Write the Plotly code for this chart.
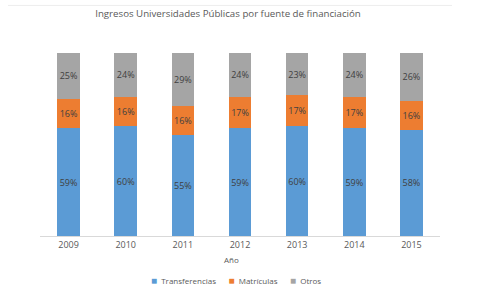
import plotly.graph_objects as go

years = ["2009", "2010", "2011", "2012", "2013", "2014", "2015"]
transferencias = [59, 60, 55, 59, 60, 59, 58]
matriculas = [16, 16, 16, 17, 17, 17, 16]
otros = [25, 24, 29, 24, 23, 24, 26]

series = [
    ("Transferencias", transferencias, "#5B9BD5"),
    ("Matrículas", matriculas, "#ED7D31"),
    ("Otros", otros, "#A5A5A5"),
]

FONT = "Open Sans, Liberation Sans, sans-serif"
TXT = "#595959"

fig = go.Figure()
for name, vals, color in series:
    fig.add_trace(go.Bar(
        x=years, y=vals, name=name,
        marker=dict(color=color, line=dict(width=0)),
        text=[f"{v}%" for v in vals],
        textposition="inside", insidetextanchor="middle", textangle=0,
        constraintext="none",
        textfont=dict(family=FONT, size=9, color="#404040"),
        hoverinfo="skip",
    ))

# legend built from the series list (Excel-style compact legend)
gap = "&nbsp;" * 6
legend_text = gap.join(
    f"<span style='color:{c};font-size:10px'>■</span>&nbsp;&nbsp;{n}" for n, _, c in series
)

fig.update_layout(
    barmode="stack",
    bargap=0.605,
    width=477, height=291,
    margin=dict(l=40, r=37, t=53, b=55),
    paper_bgcolor="white", plot_bgcolor="white",
    font=dict(family=FONT, color=TXT),
    title=dict(text="Ingresos Universidades Públicas por fuente de financiación",
               x=0.478, xanchor="center", y=0.953, yanchor="middle",
               font=dict(family=FONT, size=9.7, color=TXT)),
    showlegend=False,
    xaxis=dict(showline=True, linecolor="#D9D9D9", linewidth=1, ticks="",
               automargin=False,
               tickfont=dict(family=FONT, size=9, color=TXT)),
    yaxis=dict(visible=False, range=[0, 100], automargin=False),
    annotations=[
        dict(text="Año", xref="paper", yref="paper", x=0.4775, y=-0.126,
             xanchor="center", yanchor="middle", showarrow=False,
             font=dict(family=FONT, size=8, color=TXT)),
        dict(text=legend_text, xref="paper", yref="paper", x=0.49, y=-0.243,
             xanchor="center", yanchor="middle", showarrow=False,
             font=dict(family=FONT, size=8, color=TXT)),
    ],
    shapes=[dict(type="line", xref="paper", yref="paper", x0=-0.08, x1=1.03, y0=1.26, y1=1.26,
                 line=dict(color="#EDEDED", width=1))],
)

fig.write_html("out.html", config={"displayModeBar": False},
               post_script="document.body.style.margin='0';")
